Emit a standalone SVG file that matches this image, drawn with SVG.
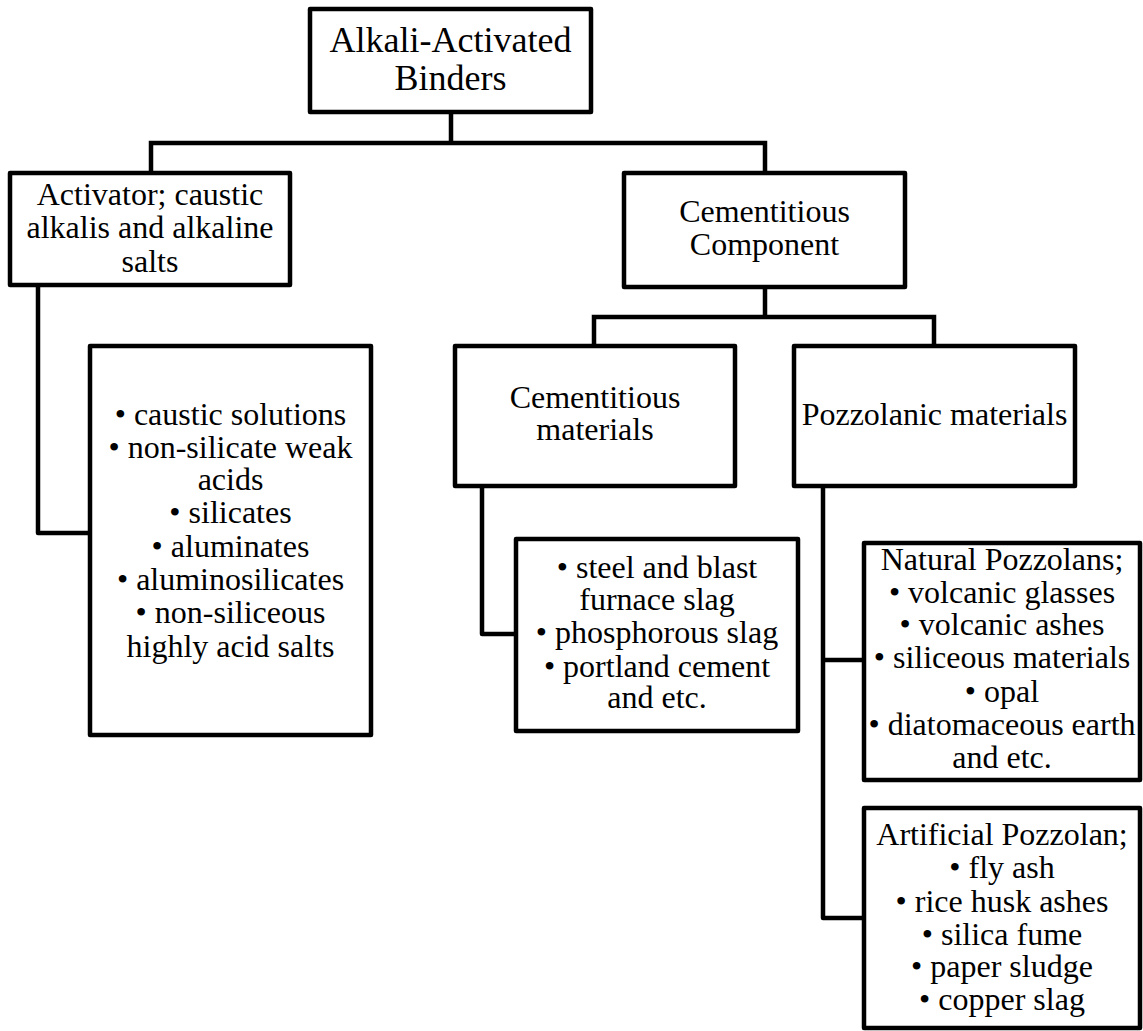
<svg xmlns="http://www.w3.org/2000/svg" width="1143" height="1031" viewBox="0 0 1143 1031">
<style>
.box{fill:#fff;stroke:#000;stroke-width:4.5;stroke-linejoin:round}
.ln{fill:none;stroke:#000;stroke-width:4.5;stroke-linejoin:round;stroke-linecap:square}
.t{font-family:'Liberation Serif','Times New Roman','DejaVu Serif',serif;font-size:32px;fill:#000;text-anchor:middle}
.big{font-size:36px}
</style>
<rect width="1143" height="1031" fill="#fff"/>
<g id="connectors">
<path class="ln" d="M451 112 V143 M151 143 H765 M151 143 V173 M765 143 V173"/>
<path class="ln" d="M38 285 V533 H90"/>
<path class="ln" d="M765 287 V317 M594 317 H934 M594 317 V346 M934 317 V346"/>
<path class="ln" d="M482 486 V634 H516"/>
<path class="ln" d="M823 486 V918 H864 M823 660 H864"/>
</g>
<g id="n-root" class="t" font-family="Liberation Serif, serif">
<rect class="box" x="310" y="9" width="281" height="103"/>
<text class="big" x="450.5" y="52">Alkali-Activated</text>
<text class="big" x="450.5" y="90">Binders</text>
</g>
<g id="n-activator" class="t" font-family="Liberation Serif, serif">
<rect class="box" x="10" y="173" width="280" height="112"/>
<text x="150" y="205">Activator; caustic</text>
<text x="150" y="238">alkalis and alkaline</text>
<text x="150" y="272">salts</text>
</g>
<g id="n-activator-list" class="t" font-family="Liberation Serif, serif">
<rect class="box" x="90" y="346" width="281" height="389"/>
<text x="230.5" y="425">• caustic solutions</text>
<text x="230.5" y="458">• non-silicate weak</text>
<text x="230.5" y="490">acids</text>
<text x="230.5" y="523">• silicates</text>
<text x="230.5" y="557">• aluminates</text>
<text x="230.5" y="590">• aluminosilicates</text>
<text x="230.5" y="623">• non-siliceous</text>
<text x="230.5" y="657">highly acid salts</text>
</g>
<g id="n-cementitious-component" class="t" font-family="Liberation Serif, serif">
<rect class="box" x="624" y="173" width="281" height="114"/>
<text x="764.5" y="222">Cementitious</text>
<text x="764.5" y="255">Component</text>
</g>
<g id="n-cementitious-materials" class="t" font-family="Liberation Serif, serif">
<rect class="box" x="455" y="346" width="280" height="140"/>
<text x="595" y="408">Cementitious</text>
<text x="595" y="440">materials</text>
</g>
<g id="n-pozzolanic-materials" class="t" font-family="Liberation Serif, serif">
<rect class="box" x="794" y="346" width="281" height="140"/>
<text x="934.5" y="425">Pozzolanic materials</text>
</g>
<g id="n-cementitious-list" class="t" font-family="Liberation Serif, serif">
<rect class="box" x="516" y="539" width="282" height="192"/>
<text x="657" y="578">• steel and blast</text>
<text x="657" y="610">furnace slag</text>
<text x="657" y="643">• phosphorous slag</text>
<text x="657" y="677">• portland cement</text>
<text x="657" y="708">and etc.</text>
</g>
<g id="n-natural" class="t" font-family="Liberation Serif, serif">
<rect class="box" x="864" y="543" width="276" height="237"/>
<text x="1002" y="570">Natural Pozzolans;</text>
<text x="1002" y="603">• volcanic glasses</text>
<text x="1002" y="635">• volcanic ashes</text>
<text x="1002" y="668">• siliceous materials</text>
<text x="1002" y="702">• opal</text>
<text x="1002" y="735">• diatomaceous earth</text>
<text x="1002" y="768">and etc.</text>
</g>
<g id="n-artificial" class="t" font-family="Liberation Serif, serif">
<rect class="box" x="864" y="808" width="276" height="220"/>
<text x="1002" y="845">Artificial Pozzolan;</text>
<text x="1002" y="878">• fly ash</text>
<text x="1002" y="912">• rice husk ashes</text>
<text x="1002" y="945">• silica fume</text>
<text x="1002" y="977">• paper sludge</text>
<text x="1002" y="1010">• copper slag</text>
</g>
</svg>
